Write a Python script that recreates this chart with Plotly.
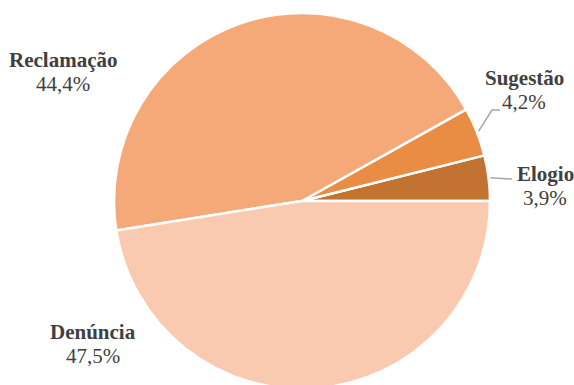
import math
import plotly.graph_objects as go

# ---- data ----
categories = ["Elogio", "Sugestão", "Reclamação", "Denúncia"]
values = [3.9, 4.2, 44.4, 47.5]
colors = ["#C27332", "#E88D43", "#F6A978", "#F9CAB0"]

# ---- layout (pixels) ----
W, H = 574, 393
CX, CY, R = 302, 201, 188
TEXT_COLOR = "#404040"
LINE_COLOR = "#A6A6A6"
FONT = "Liberation Serif, Times New Roman, serif"
FS = 21
LINE_GAP = 24

# baseline of first text line, horizontal centre
label_pos = {
    "Elogio": (545, 181),
    "Sugestão": (524, 85),
    "Reclamação": (63, 67),
    "Denúncia": (93, 339),
}
# leader line waypoints after the pie-edge start point
leader_pts = {
    "Elogio": [(512, 179)],
    "Sugestão": [(492, 110), (500, 110)],
}


def px(x):
    return x / W


def py(y):
    return 1 - y / H


total = sum(values)
# first slice should start at 3 o'clock and grow counterclockwise
rotation = 90 - 360 * values[0] / total

fig = go.Figure(
    go.Pie(
        labels=categories,
        values=values,
        sort=False,
        direction="counterclockwise",
        rotation=rotation,
        marker=dict(colors=colors, line=dict(color="white", width=2.5)),
        textinfo="none",
        hoverinfo="label+percent",
        showlegend=False,
        domain=dict(x=[px(CX - R), px(CX + R)], y=[py(CY + R), py(CY - R)]),
    )
)

annotations = []
shapes = []
cum = 0.0
for cat, v in zip(categories, values):
    pct = v / total * 100
    mid = (cum + pct / 2) / 100 * 2 * math.pi
    cum += pct
    bx, by = label_pos[cat]
    annotations.append(dict(
        x=px(bx), y=py(by - 7), xref="paper", yref="paper",
        text=f"<b>{cat}</b>", showarrow=False, xanchor="center", yanchor="middle",
        font=dict(family=FONT, size=FS, color=TEXT_COLOR),
    ))
    annotations.append(dict(
        x=px(bx), y=py(by + LINE_GAP - 7), xref="paper", yref="paper",
        text=f"{pct:.1f}%".replace(".", ","), showarrow=False,
        xanchor="center", yanchor="middle",
        font=dict(family=FONT, size=FS, color=TEXT_COLOR),
    ))
    if cat in leader_pts:
        sx = CX + (R + 2) * math.cos(mid)
        sy = CY - (R + 2) * math.sin(mid)
        pts = [(sx, sy)] + leader_pts[cat]
        path = "M " + " L ".join(f"{px(x)},{py(y)}" for x, y in pts)
        shapes.append(dict(type="path", xref="paper", yref="paper", path=path,
                           line=dict(color=LINE_COLOR, width=1.5)))

fig.update_layout(
    width=W, height=H,
    margin=dict(l=0, r=0, t=0, b=0),
    paper_bgcolor="white", plot_bgcolor="white",
    annotations=annotations, shapes=shapes,
)

fig.write_html(
    "out.html",
    post_script="document.documentElement.style.overflow='hidden';document.body.style.overflow='hidden';",
)
